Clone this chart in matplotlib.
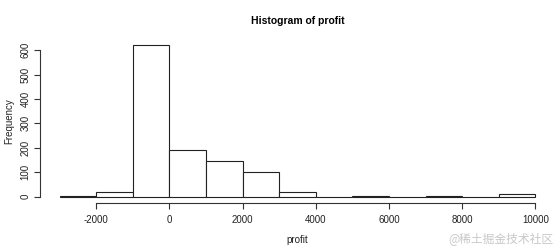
import numpy as np
import matplotlib
matplotlib.use('Agg')
import matplotlib.pyplot as plt

plt.rcParams['font.family'] = ['Liberation Sans', 'DejaVu Sans']

# histogram of profit, bins of width 1000
bin_edges = [-3000, -2000, -1000, 0, 1000, 2000, 3000, 4000, 5000, 6000, 7000, 8000, 9000, 10000]
counts = [2, 19, 620, 190, 146, 101, 20, 0, 2, 0, 2, 0, 12]
x_ticks = [-2000, 0, 2000, 4000, 6000, 8000, 10000]
y_ticks = [0, 100, 200, 300, 400, 500, 600]

fig = plt.figure(figsize=(5.56, 2.48), dpi=100)
ax = fig.add_axes([0.0728, 0.1823, 0.9242, 0.66])

left = np.array(bin_edges[:-1])
width = np.diff(bin_edges)
ax.bar(left, counts, width=width, align='edge', color='white',
       edgecolor='#222222', linewidth=0.8)

ax.set_xlim(-3520, 10520)
ax.set_ylim(-24.8, 644.8)

# R-style axes: only left and bottom, detached
for s in ['top', 'right']:
    ax.spines[s].set_visible(False)
ax.spines['left'].set_bounds(0, 600)
ax.spines['bottom'].set_bounds(-2000, 10000)
for s in ['left', 'bottom']:
    ax.spines[s].set_color('#333333')
    ax.spines[s].set_linewidth(0.8)

ax.set_xticks(x_ticks)
ax.set_xticklabels([str(v) for v in x_ticks])
ax.set_yticks(y_ticks)
ax.set_yticklabels([str(v) for v in y_ticks], rotation=90, va='center')
ax.tick_params(axis='both', labelsize=7, length=4, width=0.8, color='#333333',
               labelcolor='#222222')
ax.tick_params(axis='x', pad=5)
ax.tick_params(axis='y', pad=3)

ax.set_xlabel('profit', fontsize=7, color='#222222', labelpad=7)
ax.set_ylabel('Frequency', fontsize=7, color='#222222', labelpad=5)
ax.set_title('Histogram of profit', fontsize=7.5, fontweight='bold', pad=11)

# watermark
fig.text(0.995, 0.04, '@稀土掘金技术社区', ha='right', va='center', fontsize=8.5,
         color='#c8c8c8', family=['Noto Sans CJK SC', 'DejaVu Sans'])

fig.savefig('out.png', dpi=100)
